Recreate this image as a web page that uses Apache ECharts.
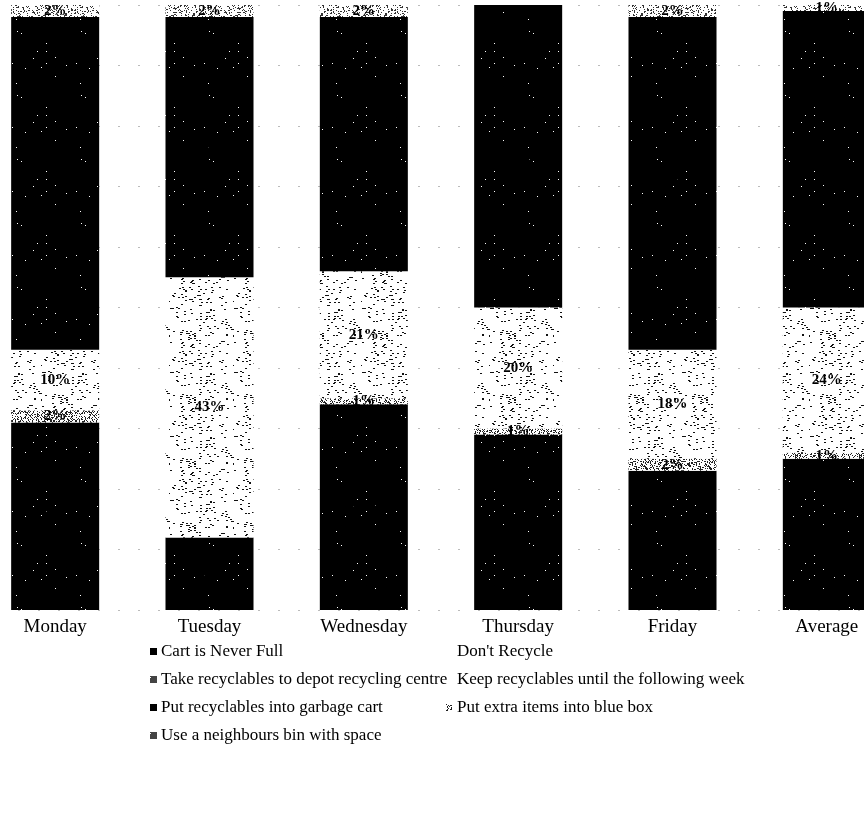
<!DOCTYPE html>
<html>
<head>
<meta charset="utf-8">
<script src="https://cdn.jsdelivr.net/npm/echarts@6/dist/echarts.min.js"></script>
<style>html,body{margin:0;padding:0;background:#fff;overflow:hidden;width:864px;height:815px}#c{width:926px;height:815px;margin-left:-22px}</style>
</head>
<body>
<div id="c"></div>
<script>
// ---- data ----
var categories = ['Monday', 'Tuesday', 'Wednesday', 'Thursday', 'Friday', 'Average'];
var seriesNames = [
  'Cart is Never Full',
  "Don't Recycle",
  'Take recyclables to depot recycling centre',
  'Keep recyclables until the following week',
  'Put recyclables into garbage cart',
  'Put extra items into blue box',
  'Use a neighbours bin with space'
];
var cartNeverFull   = [31, 12, 34, 29, 23, 25];
var dontRecycle     = [2, 0, 1, 1, 2, 1];
var takeToDepot     = [10, 43, 21, 20, 18, 24];
var keepUntilNext   = [0, 0, 0, 0, 0, 0];
var intoGarbageCart = [55, 43, 42, 50, 55, 49];
var intoBlueBox     = [0, 0, 0, 0, 0, 0];
var neighboursBin   = [2, 2, 2, 0, 2, 1];
var yTicks = [0, 10, 20, 30, 40, 50, 60, 70, 80, 90, 100];

// ---- textures (deterministic) ----
function makePattern(bg, fg, count, seed, w, h, size) {
  var c = document.createElement('canvas');
  c.width = size; c.height = size;
  var ctx = c.getContext('2d');
  ctx.fillStyle = bg; ctx.fillRect(0, 0, size, size);
  ctx.fillStyle = fg;
  var s = seed;
  function r() { s = (s * 1103515245 + 12345) % 2147483648; return s / 2147483648; }
  for (var i = 0; i < count; i++) {
    var x = Math.floor(r() * size), y = Math.floor(r() * size);
    ctx.fillRect(x, y, w, h);
  }
  return { image: c, repeat: 'repeat' };
}
var blackPat   = makePattern('#000', '#fff', 14, 7, 1, 1, 64);
var stipplePat = makePattern('#fff', '#111', 150, 13, 2, 1, 64);
var grayPat    = makePattern('#fff', '#222', 1500, 29, 1, 1, 64);
var gray2Pat   = makePattern('#fff', '#333', 1100, 41, 1, 1, 64);
var iconPat    = makePattern('#fff', '#444', 900, 53, 1, 1, 16);

var dataArrays = [cartNeverFull, dontRecycle, takeToDepot, keepUntilNext, intoGarbageCart, intoBlueBox, neighboursBin];
var fills = [blackPat, grayPat, stipplePat, '#fff', blackPat, grayPat, gray2Pat];

var labelFmt = function (p) { return p.value > 0 ? p.value + '%' : ''; };

var series = seriesNames.map(function (n, i) {
  return {
    name: n,
    type: 'bar',
    stack: 'total',
    barWidth: 88,
    data: dataArrays[i],
    itemStyle: { color: fills[i] },
    label: {
      show: true,
      position: 'inside',
      formatter: labelFmt,
      color: '#000',
      fontFamily: 'Liberation Serif',
      fontWeight: 'bold',
      fontSize: 15
    },
    emphasis: { disabled: true },
    animation: false
  };
});

// legend placement: two columns (coordinates inside the 926px-wide container, offset 22)
var legendPos = [
  [172, 643], [468, 643],
  [172, 671], [468, 671],
  [172, 699], [468, 699],
  [172, 727]
];
var legendIconStyle = {
  1: { opacity: 0 },
  2: { color: iconPat },
  3: { opacity: 0 },
  5: { color: grayPat },
  6: { color: iconPat }
};
var legends = seriesNames.map(function (n, i) {
  var item = { name: n };
  if (legendIconStyle[i]) item.itemStyle = legendIconStyle[i];
  return {
    data: [item],
    left: legendPos[i][0],
    top: legendPos[i][1],
    orient: 'horizontal',
    icon: 'rect',
    itemWidth: 7,
    itemHeight: 7,
    itemGap: 4,
    selectedMode: false,
    padding: 0,
    textStyle: { fontFamily: 'Liberation Serif', fontSize: 17, color: '#000', padding: [0, 0, 0, -1] }
  };
});

var chart = echarts.init(document.getElementById('c'), null, { renderer: 'canvas' });
chart.setOption({
  animation: false,
  backgroundColor: '#fff',
  grid: { left: 0, right: 0, top: 5, bottom: 205, containLabel: false },
  legend: legends,
  xAxis: {
    type: 'category',
    data: categories,
    axisLine: { show: false },
    axisTick: { show: false },
    axisLabel: { color: '#000', fontFamily: 'Liberation Serif', fontSize: 19, margin: 8 }
  },
  yAxis: {
    type: 'value',
    min: yTicks[0],
    max: yTicks[yTicks.length - 1],
    interval: yTicks[1] - yTicks[0],
    axisLabel: { show: false },
    axisLine: { show: false },
    axisTick: { show: false },
    splitLine: { show: true, lineStyle: { color: '#bbb', width: 1, type: [2, 18] } }
  },
  series: series
});
</script>
</body>
</html>
